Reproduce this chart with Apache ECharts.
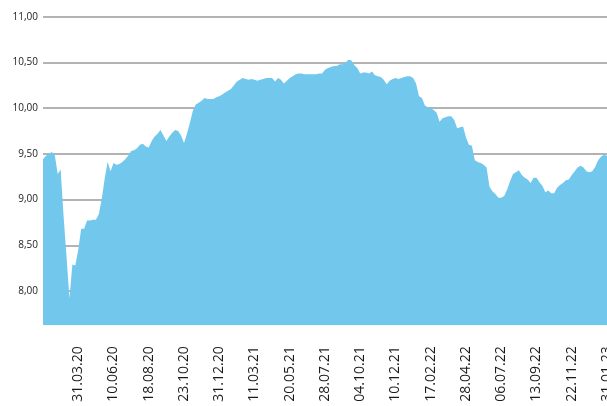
<!DOCTYPE html>
<html>
<head>
<meta charset="utf-8">
<script src="https://cdn.jsdelivr.net/npm/echarts@6/dist/echarts.min.js"></script>
<style>
html,body{margin:0;padding:0;background:#fff;}
#chart{width:607px;height:406px;}
</style>
</head>
<body>
<div id="chart"></div>
<script>
// Tick labels on the x axis (one every 12 samples, starting at sample 12)
const tickLabels = ['31.03.20','10.06.20','18.08.20','23.10.20','31.12.20','11.03.21','20.05.21','28.07.21','04.10.21','10.12.21','17.02.22','28.04.22','06.07.22','13.09.22','22.11.22','31.01.23'];
const samplesPerTick = 12;

// Series values (evenly spaced samples)
const values = [
 9.44,9.48,9.50,9.52,9.49,9.28,9.33,8.82,8.38,7.92,
 8.29,8.28,8.45,8.68,8.68,8.77,8.77,8.78,8.78,8.84,
 9.01,9.23,9.41,9.31,9.40,9.38,9.39,9.41,9.44,9.48,
 9.53,9.54,9.56,9.60,9.61,9.58,9.57,9.64,9.69,9.72,
 9.76,9.70,9.64,9.69,9.73,9.76,9.75,9.70,9.62,9.72,
 9.84,9.97,10.04,10.06,10.08,10.11,10.10,10.10,10.10,10.12,
 10.13,10.15,10.17,10.19,10.21,10.25,10.29,10.31,10.33,10.32,
 10.31,10.32,10.31,10.30,10.31,10.32,10.33,10.33,10.33,10.29,
 10.33,10.31,10.27,10.30,10.33,10.35,10.37,10.38,10.38,10.37,
 10.37,10.37,10.37,10.37,10.38,10.38,10.42,10.44,10.45,10.46,
 10.46,10.48,10.48,10.50,10.53,10.52,10.47,10.44,10.38,10.39,
 10.39,10.38,10.40,10.36,10.35,10.34,10.31,10.26,10.30,10.32,
 10.33,10.32,10.33,10.34,10.35,10.35,10.33,10.27,10.13,10.11,
 10.03,10.01,10.00,9.98,9.95,9.85,9.89,9.90,9.91,9.91,
 9.87,9.78,9.79,9.80,9.68,9.60,9.59,9.43,9.41,9.40,
 9.38,9.35,9.14,9.09,9.06,9.02,9.02,9.04,9.11,9.20,
 9.28,9.30,9.32,9.27,9.24,9.22,9.18,9.24,9.24,9.19,
 9.15,9.08,9.10,9.07,9.07,9.13,9.16,9.18,9.21,9.22,
 9.27,9.31,9.35,9.37,9.35,9.31,9.30,9.31,9.36,9.43,
 9.47,9.49,9.48
];

// Y axis gridline / label values
const yTicks = [8.0, 8.5, 9.0, 9.5, 10.0, 10.5, 11.0];
const yMin = 7.625, yMax = 11;

const categories = values.map(function (v, i) {
  if (i > 0 && i % samplesPerTick === 0) {
    const k = i / samplesPerTick - 1;
    return k < tickLabels.length ? tickLabels[k] : '';
  }
  return '';
});

const chart = echarts.init(document.getElementById('chart'), null, {renderer: 'canvas'});
chart.setOption({
  animation: false,
  backgroundColor: '#ffffff',
  grid: {left: 43, right: 0, top: 16.7, bottom: 80.7, containLabel: false, outerBoundsMode: 'none'},
  xAxis: {
    type: 'category',
    data: categories,
    boundaryGap: false,
    axisLine: {show: false},
    axisTick: {show: false},
    splitLine: {show: false},
    axisLabel: {
      interval: 0,
      rotate: 90,
      margin: 21,
      fontSize: 14,
      fontFamily: 'Open Sans',
      color: '#1a1a1a',
      hideOverlap: false
    }
  },
  yAxis: {
    type: 'value',
    min: yMin,
    max: yMax,
    axisLine: {show: false},
    axisTick: {show: false, customValues: yTicks},
    axisLabel: {
      customValues: yTicks,
      margin: 5,
      fontSize: 10,
      fontFamily: 'Open Sans',
      color: '#222222',
      formatter: function (v) { return v.toFixed(2).replace('.', ','); }
    },
    splitLine: {show: true, lineStyle: {color: '#9a9a9a', width: 1.6}}
  },
  series: [{
    type: 'line',
    data: values,
    showSymbol: false,
    symbol: 'none',
    smooth: false,
    lineStyle: {width: 0},
    areaStyle: {color: '#72C7ED', opacity: 1}
  }]
});
</script>
</body>
</html>
